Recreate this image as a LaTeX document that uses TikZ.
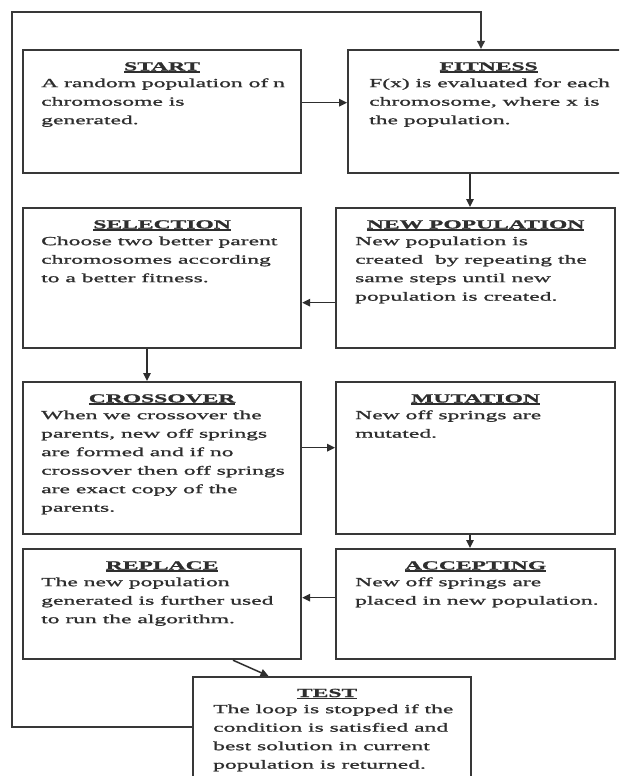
\documentclass[tikz,border=0pt]{standalone}
\usepackage{fontspec}
\setmainfont{Liberation Serif}
\newfontfamily\boxfont{Liberation Serif}[FakeStretch=1.9, FakeBold=1.2]
\usetikzlibrary{arrows.meta}

\newcommand\ttl[1]{\setbox0\hbox{\bfseries #1}\rlap{\rule[-2.2pt]{\wd0}{1.3pt}}\box0}

\tikzset{
 box/.style={draw=black!78, line width=2.2pt, anchor=north west, inner sep=0pt},
 ttlnode/.style={anchor=base, inner sep=0pt, font=\boxfont\fontsize{12.4}{18.5}\selectfont, text=black!82},
 body/.style={anchor=north west, inner sep=0pt, align=left, font=\boxfont\fontsize{12.4}{18.5}\selectfont, text=black!82},
 arr/.style={draw=black!82, line width=1.5pt, -{Triangle[length=8pt,width=7.5pt]}},
 loopline/.style={draw=black!78, line width=1.8pt, -{Triangle[length=8pt,width=7.5pt]}},
}

\begin{document}
\begin{tikzpicture}[x=1pt,y=-1pt]
\useasboundingbox (0,0) rectangle (619,776);
\clip (0,0) rectangle (619,776);
\fill[white] (0,0) rectangle (619,776);

% boxes
\node[box, minimum width=278pt, minimum height=123pt] (start) at (22,49) {};
\node[box, minimum width=281pt, minimum height=123pt] (fitness) at (347,49) {};
\node[box, minimum width=278pt, minimum height=140pt] (selection) at (22,207) {};
\node[box, minimum width=279pt, minimum height=140pt] (newpop) at (335,207) {};
\node[box, minimum width=278pt, minimum height=152pt] (crossover) at (22,381) {};
\node[box, minimum width=279pt, minimum height=152pt] (mutation) at (335,381) {};
\node[box, minimum width=278pt, minimum height=110pt] (replace) at (22,548) {};
\node[box, minimum width=279pt, minimum height=110pt] (accepting) at (335,548) {};
\node[box, minimum width=278pt, minimum height=114pt] (test) at (192,676) {};

% titles
\node[ttlnode] (startT) at ([yshift=-21.5pt]start.north) {\ttl{START}};
\node[ttlnode] (fitnessT) at ([yshift=-21.5pt]fitness.north) {\ttl{FITNESS}};
\node[ttlnode] (selectionT) at ([yshift=-21.5pt]selection.north) {\ttl{SELECTION}};
\node[ttlnode] (newpopT) at ([yshift=-21.5pt]newpop.north) {\ttl{NEW POPULATION}};
\node[ttlnode] (crossoverT) at ([yshift=-21.5pt]crossover.north) {\ttl{CROSSOVER}};
\node[ttlnode] (mutationT) at ([yshift=-21.5pt]mutation.north) {\ttl{MUTATION}};
\node[ttlnode] (replaceT) at ([yshift=-21.5pt]replace.north) {\ttl{REPLACE}};
\node[ttlnode] (acceptingT) at ([yshift=-21.5pt]accepting.north) {\ttl{ACCEPTING}};
\node[ttlnode] (testT) at ([xshift=-5pt,yshift=-21pt]test.north) {\ttl{TEST}};

% body texts
\node[body] (startB) at ([xshift=19pt,yshift=-25pt]start.north west)
 {\strut A random population of\kern-1pt\ n\\chromosome is\\generated.};
\node[body] (fitnessB) at ([xshift=22pt,yshift=-25pt]fitness.north west)
 {\strut F(x) is evaluated for each\\chromosome, where x is\\the population.};
\node[body] (selectionB) at ([xshift=19pt,yshift=-25pt]selection.north west)
 {\strut Choose two better parent\\chromosomes according\\to a better fitness.};
\node[body] (newpopB) at ([xshift=20pt,yshift=-25pt]newpop.north west)
 {\strut New population is\\created \ by repeating the\\same steps until new\\population is created.};
\node[body] (crossoverB) at ([xshift=19pt,yshift=-25pt]crossover.north west)
 {\strut When we crossover the\\parents, new off springs\\are formed and if no\\crossover then off springs\\are exact copy of the\\parents.};
\node[body] (mutationB) at ([xshift=20pt,yshift=-25pt]mutation.north west)
 {\strut New off springs are\\mutated.};
\node[body] (replaceB) at ([xshift=19pt,yshift=-25pt]replace.north west)
 {\strut The new population\\generated is further used\\to run the algorithm.};
\node[body] (acceptingB) at ([xshift=20pt,yshift=-25pt]accepting.north west)
 {\strut New off springs are\\placed in new population.};
\node[body] (testB) at ([xshift=21pt,yshift=-24pt]test.north west)
 {\strut The loop is stopped if the\\condition is satisfied and\\best solution in current\\population is returned.};

% connector helper coordinates
\coordinate (yA) at (0,102.7);
\coordinate (xB) at (470,0);
\coordinate (yC) at (0,302.7);
\coordinate (xD) at (147,0);
\coordinate (yE) at (0,447.7);
\coordinate (yG) at (0,597.7);
\coordinate (r1) at (233,0);
\coordinate (r2) at (268.5,0);
\coordinate (lb) at (12,727);
\coordinate (lt) at (12,12);
\coordinate (rt) at (481,12);

% connectors
\draw[arr] (start.east |- yA) -- (fitness.west |- yA);
\draw[arr] (xB |- fitness.south) -- (xB |- newpop.north);
\draw[arr] (newpop.west |- yC) -- (selection.east |- yC);
\draw[arr] (xD |- selection.south) -- (xD |- crossover.north);
\draw[arr] (crossover.east |- yE) -- (mutation.west |- yE);
\draw[arr] (xB |- mutation.south) -- (xB |- accepting.north);
\draw[arr] (accepting.west |- yG) -- (replace.east |- yG);
\draw[arr] (r1 |- replace.south) -- (r2 |- test.north);
\draw[loopline] (lb -| test.west) -- (lb) -- (lt) -- (rt) -- (rt |- fitness.north);
\end{tikzpicture}
\end{document}
